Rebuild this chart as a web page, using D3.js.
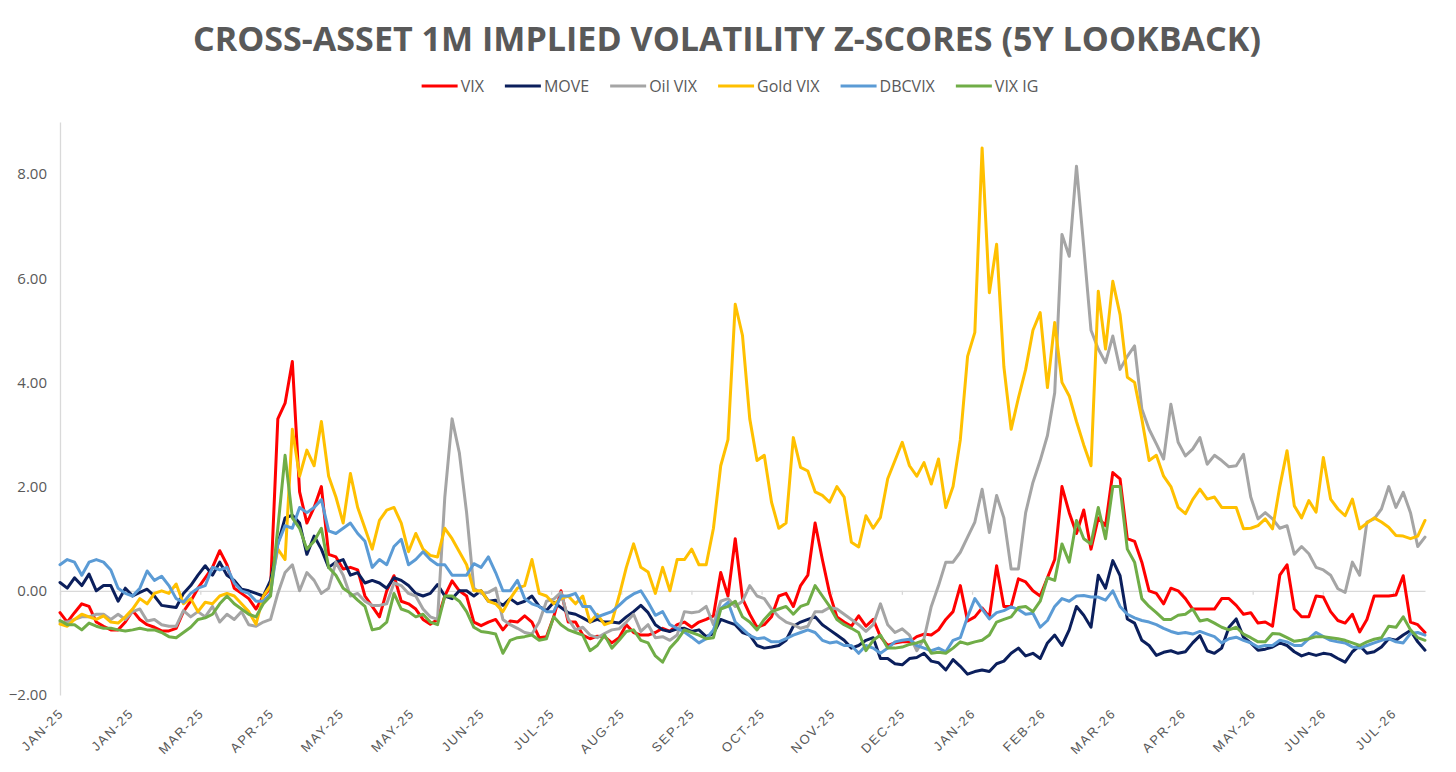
<!DOCTYPE html>
<html lang="en">

<head>
    <meta charset="UTF-8">
    <title>Cross-Asset 1M Implied Volatility Z-Scores</title>
    <script src="https://cdnjs.cloudflare.com/ajax/libs/d3/7.8.5/d3.min.js"></script>
    <style>
        * {
            margin: 0;
            padding: 0;
            box-sizing: border-box;
        }

        body {
            background: #fff;
            font-family: "Open Sans", "Noto Sans", sans-serif;
        }

        svg {
            display: block;
        }

        .title {
            font-weight: 700;
            fill: #595959;
        }

        .legend text,
        .y-axis text,
        .x-labels text {
            fill: #595959;
        }

        .line {
            fill: none;
            stroke-width: 3;
            stroke-linejoin: round;
            stroke-linecap: round;
        }
    </style>
</head>

<body>
    <svg id="chart" width="1456" height="772"></svg>

    <script>
        // category labels along the bottom axis
        const tickLabels = ["JAN-25", "JAN-25", "MAR-25", "APR-25", "MAY-25", "MAY-25", "JUN-25", "JUL-25",
            "AUG-25", "SEP-25", "OCT-25", "NOV-25", "DEC-25", "JAN-26", "FEB-26", "MAR-26",
            "APR-26", "MAY-26", "JUN-26", "JUL-26"];
        const yTicks = [-2, 0, 2, 4, 6, 8];

        const seriesNames = ["VIX", "MOVE", "Oil VIX", "Gold VIX", "DBCVIX", "VIX IG"];

        const vix = [
            -0.42, -0.60, -0.42, -0.25, -0.30, -0.60, -0.68, -0.75, -0.75, -0.60,
            -0.38, -0.55, -0.65, -0.70, -0.77, -0.77, -0.72, -0.40, -0.20, 0.05,
            0.25, 0.45, 0.77, 0.50, 0.05, -0.05, -0.15, -0.35, -0.10, 0.05,
            3.30, 3.60, 4.40, 1.90, 1.30, 1.60, 2.00, 0.70, 0.65, 0.42,
            0.45, 0.40, -0.10, -0.30, -0.50, 0.00, 0.29, -0.20, -0.25, -0.35,
            -0.55, -0.64, -0.55, -0.10, 0.19, 0.00, -0.10, -0.60, -0.67, -0.60,
            -0.55, -0.75, -0.58, -0.60, -0.48, -0.60, -0.90, -0.88, -0.50, 0.00,
            -0.60, -0.60, -0.85, -0.92, -0.87, -0.88, -1.00, -0.90, -0.65, -0.80,
            -0.85, -0.85, -0.80, -0.72, -0.78, -0.65, -0.60, -0.70, -0.60, -0.55,
            -0.48, 0.35, -0.10, 1.00, -0.15, -0.45, -0.70, -0.65, -0.50, -0.10,
            -0.05, -0.30, 0.10, 0.30, 1.30, 0.60, -0.05, -0.50, -0.60, -0.68,
            -0.48, -0.68, -0.55, -0.88, -1.05, -1.00, -0.98, -0.98, -0.88, -0.83,
            -0.85, -0.75, -0.55, -0.40, 0.10, -0.58, -0.50, -0.33, -0.50, 0.48,
            -0.30, -0.30, 0.23, 0.17, 0.00, -0.10, 0.25, 0.60, 2.00, 1.50,
            1.10, 1.55, 0.80, 1.40, 1.25, 2.27, 2.15, 1.00, 0.95, 0.55,
            0.00, -0.05, -0.25, 0.05, 0.00, -0.15, -0.35, -0.35, -0.35, -0.35,
            -0.15, -0.15, -0.28, -0.45, -0.42, -0.62, -0.60, -0.68, 0.30, 0.50,
            -0.35, -0.50, -0.50, -0.10, -0.12, -0.40, -0.57, -0.62, -0.45, -0.79,
            -0.55, -0.10, -0.10, -0.10, -0.08, 0.29, -0.60, -0.65, -0.80
        ];

        const move = [
            0.16, 0.05, 0.25, 0.10, 0.32, 0.00, 0.10, 0.10, -0.20, 0.05,
            -0.10, -0.03, 0.03, -0.10, -0.28, -0.30, -0.32, -0.05, 0.10, 0.30,
            0.48, 0.30, 0.55, 0.30, 0.20, 0.03, 0.00, -0.05, -0.10, 0.20,
            0.90, 1.40, 1.45, 1.30, 0.70, 1.05, 0.80, 0.45, 0.55, 0.60,
            0.30, 0.35, 0.15, 0.20, 0.15, 0.05, 0.25, 0.20, 0.10, -0.05,
            -0.10, -0.05, 0.12, -0.10, -0.15, 0.00, 0.00, -0.10, 0.00, -0.20,
            -0.18, -0.28, -0.15, -0.25, -0.20, -0.10, -0.30, -0.38, -0.22, -0.32,
            -0.42, -0.45, -0.52, -0.60, -0.55, -0.60, -0.60, -0.62, -0.50, -0.40,
            -0.28, -0.42, -0.65, -0.75, -0.78, -0.73, -0.72, -0.78, -0.75, -0.88,
            -0.82, -0.55, -0.60, -0.65, -0.80, -0.85, -1.05, -1.10, -1.08, -1.05,
            -0.95, -0.68, -0.60, -0.55, -0.50, -0.65, -0.75, -0.85, -0.95, -1.10,
            -1.05, -0.95, -0.90, -1.30, -1.30, -1.40, -1.42, -1.30, -1.28, -1.20,
            -1.35, -1.38, -1.52, -1.32, -1.45, -1.60, -1.55, -1.52, -1.55, -1.40,
            -1.35, -1.20, -1.10, -1.25, -1.20, -1.30, -1.00, -0.85, -1.05, -0.75,
            -0.30, -0.47, -0.70, 0.30, 0.05, 0.58, 0.29, -0.54, -0.62, -0.95,
            -1.05, -1.24, -1.18, -1.15, -1.20, -1.17, -1.00, -0.86, -1.15, -1.20,
            -1.10, -0.70, -0.54, -0.89, -1.00, -1.14, -1.12, -1.08, -1.00, -1.05,
            -1.17, -1.25, -1.20, -1.24, -1.20, -1.22, -1.30, -1.37, -1.17, -1.05,
            -1.20, -1.17, -1.08, -0.92, -0.95, -0.85, -0.76, -0.98, -1.14
        ];

        const oilVix = [
            -0.60, -0.60, -0.55, -0.50, -0.50, -0.45, -0.45, -0.55, -0.45, -0.55,
            -0.40, -0.35, -0.58, -0.55, -0.65, -0.68, -0.68, -0.38, -0.50, -0.40,
            -0.50, -0.30, -0.60, -0.45, -0.55, -0.40, -0.65, -0.68, -0.60, -0.55,
            -0.05, 0.35, 0.50, 0.00, 0.35, 0.20, -0.05, 0.05, 0.55, 0.30,
            -0.10, -0.05, -0.20, -0.28, -0.28, -0.25, 0.15, 0.10, -0.05, -0.10,
            -0.35, -0.50, -0.55, 1.80, 3.30, 2.65, 1.50, 0.05, -0.05, -0.03,
            0.05, -0.55, -0.65, -0.72, -0.80, -0.83, -0.60, -0.20, -0.16, -0.03,
            -0.54, -0.75, -0.70, -0.85, -0.90, -0.82, -0.75, -0.73, -0.60, -0.45,
            -0.78, -0.65, -0.90, -0.88, -0.95, -0.85, -0.40, -0.42, -0.40, -0.30,
            -0.65, -0.20, -0.15, -0.30, -0.20, 0.10, -0.10, -0.15, -0.35, -0.50,
            -0.60, -0.65, -0.72, -0.68, -0.40, -0.40, -0.32, -0.35, -0.45, -0.55,
            -0.65, -0.78, -0.65, -0.25, -0.65, -0.80, -0.73, -0.85, -1.15, -0.92,
            -0.30, 0.10, 0.55, 0.55, 0.74, 1.03, 1.32, 1.95, 1.12, 1.83,
            1.40, 0.42, 0.42, 1.50, 2.08, 2.50, 2.98, 3.80, 6.84, 6.42,
            8.15, 6.60, 5.00, 4.64, 4.38, 4.89, 4.25, 4.50, 4.70, 3.49,
            3.10, 2.82, 2.53, 3.58, 2.85, 2.59, 2.72, 2.94, 2.43, 2.60,
            2.50, 2.38, 2.40, 2.62, 1.80, 1.38, 1.50, 1.38, 1.20, 1.25,
            0.70, 0.85, 0.71, 0.45, 0.40, 0.30, 0.04, -0.03, 0.55, 0.30,
            1.32, 1.38, 1.57, 2.00, 1.60, 1.89, 1.50, 0.85, 1.03
        ];

        const goldVix = [
            -0.64, -0.68, -0.55, -0.45, -0.50, -0.55, -0.48, -0.60, -0.62, -0.50,
            -0.35, -0.15, -0.25, -0.05, 0.00, -0.05, 0.13, -0.25, -0.15, -0.40,
            -0.22, -0.25, -0.10, -0.05, -0.10, -0.25, -0.40, -0.64, -0.10, 0.10,
            0.80, 0.60, 3.10, 2.20, 2.70, 2.40, 3.25, 2.20, 1.80, 1.30,
            2.25, 1.60, 1.20, 0.80, 1.35, 1.55, 1.60, 1.30, 0.75, 1.10,
            0.80, 0.68, 0.65, 1.20, 1.00, 0.75, 0.50, 0.00, 0.00, -0.20,
            -0.25, -0.40, -0.15, 0.05, 0.10, 0.60, -0.05, -0.10, -0.25, -0.15,
            -0.10, -0.25, -0.10, -0.60, -0.45, -0.65, -0.60, -0.10, 0.45, 0.90,
            0.45, 0.36, -0.05, 0.45, 0.00, 0.60, 0.60, 0.80, 0.50, 0.50,
            1.20, 2.40, 2.90, 5.50, 4.90, 3.30, 2.50, 2.60, 1.70, 1.20,
            1.30, 2.94, 2.37, 2.30, 1.90, 1.83, 1.70, 2.00, 1.80, 0.93,
            0.84, 1.44, 1.20, 1.41, 2.15, 2.50, 2.85, 2.40, 2.20, 2.46,
            2.05, 2.53, 1.60, 2.00, 2.90, 4.50, 4.96, 8.50, 5.72, 6.65,
            4.30, 3.10, 3.70, 4.25, 5.00, 5.34, 3.90, 5.15, 4.00, 3.74,
            3.25, 2.80, 2.40, 5.75, 4.64, 5.94, 5.30, 4.10, 4.00, 3.30,
            2.50, 2.60, 2.20, 2.00, 1.60, 1.48, 1.75, 1.95, 1.76, 1.80,
            1.60, 1.60, 1.60, 1.19, 1.20, 1.25, 1.38, 1.19, 2.00, 2.69,
            1.63, 1.40, 1.73, 1.51, 2.56, 1.76, 1.57, 1.44, 1.76, 1.19,
            1.30, 1.40, 1.32, 1.22, 1.06, 1.05, 1.00, 1.05, 1.35
        ];

        const dbcvix = [
            0.50, 0.60, 0.55, 0.30, 0.55, 0.60, 0.55, 0.40, 0.05, -0.05,
            -0.10, 0.05, 0.38, 0.20, 0.28, 0.10, -0.15, -0.22, -0.05, 0.05,
            0.10, 0.45, 0.40, 0.45, 0.15, 0.00, -0.05, -0.20, -0.20, -0.05,
            0.90, 1.25, 1.20, 1.60, 1.50, 1.60, 1.75, 1.15, 1.10, 1.20,
            1.30, 1.10, 0.95, 0.45, 0.60, 0.50, 0.85, 0.99, 0.50, 0.60,
            0.75, 0.60, 0.50, 0.50, 0.30, 0.30, 0.30, 0.52, 0.45, 0.65,
            0.35, 0.00, 0.00, 0.20, -0.15, -0.25, -0.30, -0.40, -0.40, -0.10,
            -0.10, -0.05, -0.30, -0.30, -0.50, -0.45, -0.40, -0.28, -0.15, -0.06,
            0.00, -0.22, -0.47, -0.40, -0.65, -0.72, -0.79, -0.89, -1.00, -0.92,
            -0.75, -0.34, -0.22, -0.60, -0.73, -0.86, -0.92, -0.90, -0.98, -0.98,
            -0.92, -0.85, -0.80, -0.75, -0.80, -0.95, -1.00, -0.98, -1.05, -1.05,
            -1.20, -1.05, -1.10, -1.20, -1.10, -0.98, -0.95, -0.93, -1.05, -1.10,
            -1.15, -1.10, -1.17, -0.95, -0.90, -0.50, -0.15, -0.35, -0.54, -0.42,
            -0.38, -0.31, -0.36, -0.45, -0.43, -0.70, -0.57, -0.30, -0.15, -0.20,
            -0.10, -0.09, -0.12, -0.12, -0.18, 0.00, -0.30, -0.45, -0.52, -0.57,
            -0.60, -0.65, -0.72, -0.78, -0.82, -0.80, -0.83, -0.78, -0.83, -0.88,
            -1.00, -0.92, -0.89, -0.95, -1.00, -1.08, -1.05, -1.05, -0.95, -0.98,
            -1.05, -1.05, -0.92, -0.80, -0.88, -0.95, -0.98, -1.00, -1.08, -1.10,
            -1.05, -1.00, -0.95, -0.92, -0.98, -1.00, -0.82, -0.80, -0.85
        ];

        const vixIg = [
            -0.57, -0.65, -0.65, -0.75, -0.62, -0.68, -0.72, -0.72, -0.75, -0.77,
            -0.75, -0.72, -0.75, -0.75, -0.80, -0.88, -0.90, -0.80, -0.70, -0.55,
            -0.52, -0.45, -0.25, -0.10, -0.25, -0.35, -0.45, -0.50, -0.25, -0.10,
            1.20, 2.60, 1.40, 1.20, 0.80, 0.95, 1.20, 0.45, 0.30, 0.05,
            -0.05, -0.18, -0.30, -0.75, -0.72, -0.60, -0.05, -0.35, -0.40, -0.50,
            -0.45, -0.60, -0.65, -0.10, -0.10, -0.20, -0.40, -0.70, -0.78, -0.80,
            -0.83, -1.20, -0.95, -0.90, -0.88, -0.85, -0.95, -0.92, -0.50, -0.65,
            -0.75, -0.80, -0.85, -1.15, -1.05, -0.85, -1.10, -0.95, -0.78, -0.75,
            -0.95, -1.00, -1.25, -1.37, -1.10, -0.95, -0.75, -0.80, -0.85, -0.92,
            -0.90, -0.35, -0.30, -0.20, -0.50, -0.60, -0.75, -0.55, -0.40, -0.35,
            -0.30, -0.45, -0.30, -0.25, 0.10, -0.10, -0.30, -0.55, -0.65, -0.72,
            -0.80, -1.15, -0.95, -0.85, -1.10, -1.10, -1.08, -1.03, -1.00, -0.95,
            -1.20, -1.18, -1.20, -1.10, -0.98, -1.02, -0.98, -0.95, -0.85, -0.60,
            -0.55, -0.50, -0.32, -0.30, -0.40, -0.20, 0.25, 0.20, 0.90, 0.55,
            1.35, 1.00, 0.90, 1.60, 1.00, 2.00, 2.00, 0.80, 0.55, -0.15,
            -0.30, -0.42, -0.55, -0.55, -0.47, -0.45, -0.35, -0.58, -0.55, -0.62,
            -0.70, -0.75, -0.70, -0.83, -0.90, -0.98, -0.98, -0.82, -0.83, -0.90,
            -0.97, -0.95, -0.92, -0.88, -0.88, -0.90, -0.92, -0.95, -1.00, -1.05,
            -0.98, -0.93, -0.90, -0.68, -0.70, -0.50, -0.75, -0.90, -0.95
        ];

        const seriesValues = [vix, move, oilVix, goldVix, dbcvix, vixIg];
        const seriesColors = ["#ff0000", "#0b1f5c", "#a5a5a5", "#ffc000", "#5b9bd5", "#70ad47"];

        const svg = d3.select("#chart");

        // title
        svg.append("text")
            .attr("class", "title")
            .attr("x", 727)
            .attr("y", 51)
            .attr("text-anchor", "middle")
            .attr("font-size", 34)
            .attr("textLength", 1068)
            .attr("lengthAdjust", "spacingAndGlyphs")
            .text("CROSS-ASSET 1M IMPLIED VOLATILITY Z-SCORES (5Y LOOKBACK)");

        // scales: one for the observations, one for the category labels
        const n = vix.length;
        const x = d3.scaleLinear().domain([0, n - 1]).range([60, 1425]);
        const xCat = d3.scaleLinear().domain([0, tickLabels.length - 1]).range([60, 1393]);
        const y = d3.scaleLinear().domain([-2, 9]).range([695, 121.9]);

        // y axis (no gridlines, light axis line)
        const yAxis = svg.append("g")
            .attr("class", "y-axis")
            .attr("transform", `translate(${x(0)},0)`)
            .call(d3.axisLeft(y).tickValues(yTicks).tickSize(0).tickSizeOuter(0).tickPadding(13).tickFormat(d3.format(".2f")));
        yAxis.select(".domain").attr("stroke", "#d9d9d9").attr("stroke-width", 1.3);
        yAxis.selectAll("text").attr("font-size", 15).attr("font-family", "Open Sans, sans-serif");

        // horizontal axis line on zero
        const baseLine = svg.append("g")
            .attr("transform", `translate(0,${y(0)})`)
            .call(d3.axisBottom(x).tickValues([]).tickSizeOuter(0));
        baseLine.select(".domain").attr("stroke", "#d9d9d9").attr("stroke-width", 1.3);

        // small tick marks on the zero line
        const tickIdx = d3.range(tickLabels.length);
        const xTicks = svg.append("g")
            .attr("transform", `translate(0,${y(0)})`)
            .call(d3.axisBottom(xCat).tickValues(tickIdx).tickSize(4).tickFormat(""));
        xTicks.select(".domain").remove();
        xTicks.selectAll(".tick line").attr("stroke", "#d9d9d9").attr("stroke-width", 1.3);

        // rotated category labels at the bottom
        const xLabels = svg.append("g")
            .attr("class", "x-labels")
            .attr("transform", "translate(0,714)")
            .call(d3.axisBottom(xCat).tickValues(tickIdx).tickSize(0).tickFormat(i => tickLabels[i]));
        xLabels.select(".domain").remove();
        xLabels.selectAll("text")
            .attr("font-size", 13)
            .attr("letter-spacing", 1.7)
            .attr("text-anchor", "end")
            .attr("x", 0)
            .attr("y", 0)
            .attr("dy", 0)
            .attr("transform", "translate(4,0) rotate(-45)");

        // series lines
        const line = d3.line()
            .x((d, i) => x(i))
            .y(d => y(d));

        svg.append("g")
            .selectAll("path")
            .data(seriesValues)
            .join("path")
            .attr("class", "line")
            .attr("stroke", (d, i) => seriesColors[i])
            .attr("d", line);

        // legend, centred under the title
        const legend = svg.append("g").attr("class", "legend");
        const items = legend.selectAll("g")
            .data(seriesNames)
            .join("g");
        items.append("line")
            .attr("x1", 0).attr("x2", 36)
            .attr("y1", 0).attr("y2", 0)
            .attr("stroke", (d, i) => seriesColors[i])
            .attr("stroke-width", 3.2);
        items.append("text")
            .attr("x", 39)
            .attr("dy", "0.35em")
            .attr("font-size", 16)
            .text(d => d);

        let cursor = 0;
        const offsets = [];
        items.each(function () {
            offsets.push(cursor);
            const w = d3.select(this).select("text").node().getComputedTextLength();
            cursor += 39 + w + 21;
        });
        const total = cursor - 21;
        const start = 730 - total / 2;
        items.attr("transform", (d, i) => `translate(${start + offsets[i]},86)`);
    </script>
</body>

</html>
